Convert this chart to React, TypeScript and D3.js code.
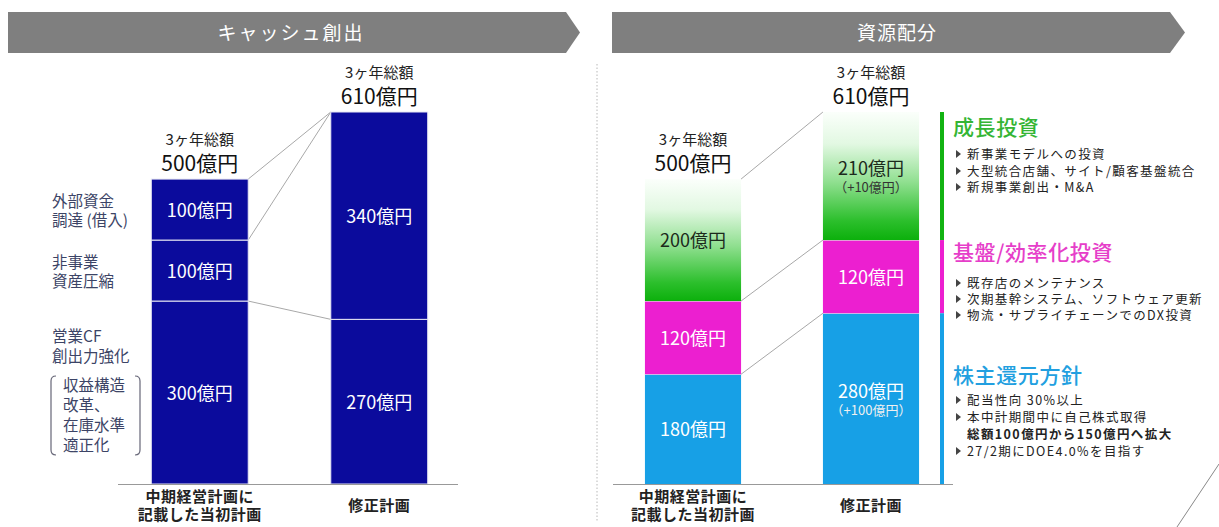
import React from "react";
import * as d3 from "d3";

const categories = ["initial", "revised"];
const categoryLabels = [["中期経営計画に", "記載した当初計画"], ["修正計画"]];
const totals = [500, 610];

// Cash creation (left): segments bottom -> top
const cashInitial = [300, 100, 100];
const cashRevised = [270, 340];
const cashSideLabels = [["営業CF", "創出力強化"], ["非事業", "資産圧縮"], ["外部資金", "調達 (借入)"]];
const cashNote = ["収益構造", "改革、", "在庫水準", "適正化"];

// Resource allocation (right)
const shareholderReturn = [180, 280];
const infraInvestment = [120, 120];
const growthInvestment = [200, 210];
const shareholderDiff = ["", "（+100億円）"];
const growthDiff = ["", "（+10億円）"];

const legendGroups = [
  { title: "成長投資", items: [["新事業モデルへの投資"], ["大型統合店舗、サイト/顧客基盤統合"], ["新規事業創出・M&A"]] },
  { title: "基盤/効率化投資", items: [["既存店のメンテナンス"], ["次期基幹システム、ソフトウェア更新"], ["物流・サプライチェーンでのDX投資"]] },
  { title: "株主還元方針", items: [["配当性向 30%以上"], ["本中計期間中に自己株式取得", "総額100億円から150億円へ拡大"], ["27/2期にDOE4.0%を目指す"]] },
];

const FONT = "'Noto Sans CJK JP', 'Noto Sans', sans-serif";
const NAVY = "#0b0b9c";
const BLUE = "#17a0e6";
const PINK = "#ec1fd0";
const GREEN = "#12b312";

function stack(vals: number[]) {
  let acc = 0;
  return vals.map((v) => {
    const s = { y0: acc, y1: acc + v, v };
    acc += v;
    return s;
  });
}

export default function App() {
  const y = d3.scaleLinear().domain([0, 610]).range([484, 112]);
  const xL = d3.scaleBand<string>().domain(categories).range([110, 469]).paddingInner(0.46).paddingOuter(0.23);
  const xR = d3.scaleBand<string>().domain(categories).range([604, 960]).paddingInner(0.46).paddingOuter(0.23);
  const bw = xL.bandwidth();
  const bwR = xR.bandwidth();

  const cashStacks = [stack(cashInitial), stack(cashRevised)];
  const rightStacks = categories.map((_, i) => stack([shareholderReturn[i], infraInvestment[i], growthInvestment[i]]));
  const rightColors = [BLUE, PINK, "url(#greenGrad)"];
  const rightDiffs = [shareholderDiff, null, growthDiff];

  const totalLabel = (cx: number, top: number, total: number, key: string) => (
    <g key={key}>
      <text x={cx} y={top - 34} textAnchor="middle" fontSize={15} fill="#222">3ヶ年総額</text>
      <text x={cx} y={top - 8} textAnchor="middle" fontSize={21} fill="#111">{`${total}億円`}</text>
    </g>
  );

  const xLabels = (x: d3.ScaleBand<string>, w: number) =>
    categories.map((c, i) => {
      const lines = categoryLabels[i];
      const cx = (x(c) as number) + w / 2;
      const startY = lines.length === 1 ? 511 : 502;
      return (
        <text key={c} x={cx} textAnchor="middle" fontSize={15} letterSpacing={0.5} fontWeight={700} fill="#222">
          {lines.map((l, j) => (
            <tspan key={j} x={cx} y={startY + j * 18}>{l}</tspan>
          ))}
        </text>
      );
    });

  const legendLayout = [
    { titleY: 135, itemYs: [[159], [176], [192]] },
    { titleY: 260, itemYs: [[288], [304], [320]] },
    { titleY: 383, itemYs: [[405], [422, 439], [456]] },
  ];
  const legendColors = [GREEN, PINK, BLUE];
  const legendTitleColors = ["#34b534", "#e63ec9", "#229fe0"];
  const legendBarRanges = [
    [y(infraInvestment[1] + shareholderReturn[1] + growthInvestment[1]), y(infraInvestment[1] + shareholderReturn[1])],
    [y(infraInvestment[1] + shareholderReturn[1]), y(shareholderReturn[1])],
    [y(shareholderReturn[1]), y(0)],
  ];

  return (
    <svg width={1219} height={527} style={{ position: "absolute", left: 0, top: 0, background: "#fff" }} fontFamily={FONT}>
      <defs>
        <linearGradient id="greenGrad" x1="0" y1="1" x2="0" y2="0">
          <stop offset="0" stopColor="#0cb00c" />
          <stop offset="0.15" stopColor="#2cbf2c" />
          <stop offset="0.45" stopColor="#8fdf8f" />
          <stop offset="0.75" stopColor="#e2f8e2" />
          <stop offset="1" stopColor="#fbfffb" />
        </linearGradient>
      </defs>

      {/* headers */}
      <polygon points="8,12 566,12 580,32.5 566,53 8,53" fill="#7f7f7f" />
      <text x={291} y={40} textAnchor="middle" fontSize={19} letterSpacing={2} fill="#fff" fontWeight={400}>キャッシュ創出</text>
      <polygon points="612,12 1170,12 1185,32.5 1170,53 612,53" fill="#7f7f7f" />
      <text x={897} y={40} textAnchor="middle" fontSize={19} letterSpacing={1} fill="#fff" fontWeight={400}>資源配分</text>

      {/* separator */}
      <line x1={597} x2={597} y1={64} y2={522} stroke="#b8b8b8" strokeDasharray="1.5,2" />

      {/* ===== Left chart ===== */}
      {(() => {
        const b1r = (xL(categories[0]) as number) + bw;
        const b2l = xL(categories[1]) as number;
        const s0 = cashStacks[0];
        const s1 = cashStacks[1];
        return (
          <g stroke="#a8a8a8" strokeWidth={1}>
            <line x1={b1r} y1={y(s0[2].y1)} x2={b2l} y2={y(s1[1].y1)} />
            <line x1={b1r} y1={y(s0[1].y1)} x2={b2l} y2={y(s1[1].y1)} />
            <line x1={b1r} y1={y(s0[0].y1)} x2={b2l} y2={y(s1[0].y1)} />
          </g>
        );
      })()}
      {cashStacks.map((st, i) => {
        const x0 = xL(categories[i]) as number;
        return (
          <g key={i}>
            {st.map((s, j) => (
              <g key={j}>
                <rect x={x0} y={y(s.y1)} width={bw} height={y(s.y0) - y(s.y1)} fill={NAVY} stroke="#e8e8f4" strokeWidth={1} />
                <text x={x0 + bw / 2} y={(y(s.y0) + y(s.y1)) / 2 + 7} textAnchor="middle" fontSize={18} fill="#fff">{`${s.v}億円`}</text>
              </g>
            ))}
            {totalLabel(x0 + bw / 2, y(totals[i]), totals[i], "t" + i)}
          </g>
        );
      })}
      {cashStacks[0].map((s, j) => {
        const lines = cashSideLabels[j];
        const mid = (y(s.y0) + y(s.y1)) / 2;
        const top = j === 0 ? 342 : mid - 3;
        return (
          <text key={j} fontSize={15.5} fill="#3c4466">
            {lines.map((l, k) => (
              <tspan key={k} x={52} y={top + k * 19.5}>{l}</tspan>
            ))}
          </text>
        );
      })}
      <text fontSize={15.5} fill="#3c4466">
        {cashNote.map((l, k) => (
          <tspan key={k} x={63} y={391 + k * 20}>{l}</tspan>
        ))}
      </text>
      <path d="M56,376 Q51,376 51,381 L51,450 Q51,455 56,455" fill="none" stroke="#667" strokeWidth={1.2} />
      <path d="M135,376 Q140,376 140,381 L140,450 Q140,455 135,455" fill="none" stroke="#667" strokeWidth={1.2} />
      <line x1={118} x2={458} y1={484.5} y2={484.5} stroke="#999" strokeWidth={1} />
      {xLabels(xL, bw)}

      {/* ===== Right chart ===== */}
      {(() => {
        const b1r = (xR(categories[0]) as number) + bwR;
        const b2l = xR(categories[1]) as number;
        const s0 = rightStacks[0];
        const s1 = rightStacks[1];
        return (
          <g stroke="#a8a8a8" strokeWidth={1}>
            {s0.map((s, j) => (
              <line key={j} x1={b1r} y1={y(s.y1)} x2={b2l} y2={y(s1[j].y1)} />
            ))}
          </g>
        );
      })()}
      {rightStacks.map((st, i) => {
        const x0 = xR(categories[i]) as number;
        return (
          <g key={i}>
            {st.map((s, j) => {
              const diff = rightDiffs[j] ? rightDiffs[j]![i] : "";
              const mid = (y(s.y0) + y(s.y1)) / 2;
              const dark = j === 2;
              return (
                <g key={j}>
                  <rect x={x0} y={y(s.y1)} width={bwR} height={y(s.y0) - y(s.y1)} fill={rightColors[j]} />
                  {j < 2 && <line x1={x0} x2={x0 + bwR} y1={y(s.y1)} y2={y(s.y1)} stroke="#f4f4f4" strokeWidth={1} />}
                  <text x={x0 + bwR / 2} y={diff ? mid - 1 : mid + 7} textAnchor="middle" fontSize={18} fill={dark ? "#1c2a1c" : "#fff"}>{`${s.v}億円`}</text>
                  {diff && (
                    <text x={x0 + bwR / 2} y={mid + 16} textAnchor="middle" fontSize={13} fill={dark ? "#333" : "#f0f0f0"}>{diff}</text>
                  )}
                </g>
              );
            })}
            {totalLabel(x0 + bwR / 2, y(totals[i]), totals[i], "rt" + i)}
          </g>
        );
      })}
      <line x1={613} x2={953} y1={484.5} y2={484.5} stroke="#999" strokeWidth={1} />
      {xLabels(xR, bwR)}

      {/* legend */}
      {legendGroups.map((g, i) => (
        <g key={i}>
          <rect x={940} y={legendBarRanges[i][0]} width={4} height={legendBarRanges[i][1] - legendBarRanges[i][0]} fill={legendColors[i]} />
          <text x={953} y={legendLayout[i].titleY} fontSize={21} letterSpacing={0.6} fontWeight={500} fill={legendTitleColors[i]}>{g.title}</text>
          {g.items.map((it, k) =>
            it.map((line, m) => (
              <g key={k + "-" + m}>
                {m === 0 && <path d={`M956,${legendLayout[i].itemYs[k][m] - 9} l5,4 l-5,4 z`} fill="#444" />}
                <text x={967} y={legendLayout[i].itemYs[k][m]} fontSize={12.5} letterSpacing={1.4} fill="#222" fontWeight={m === 1 ? 700 : 400}>{line}</text>
              </g>
            ))
          )}
        </g>
      ))}

      {/* decorative diagonal */}
      <line x1={1177} y1={527} x2={1219} y2={464} stroke="#888" strokeWidth={1} />
    </svg>
  );
}
